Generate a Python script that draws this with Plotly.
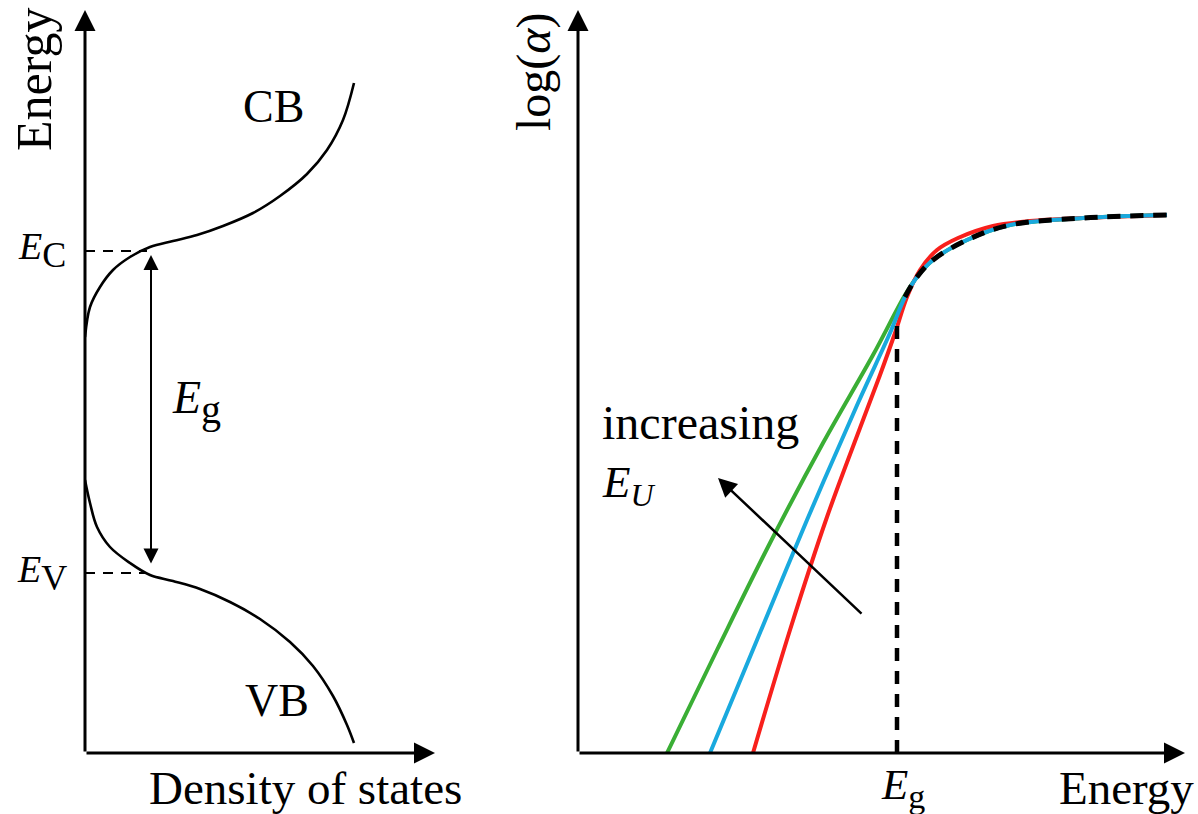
import plotly.graph_objects as go

W, H = 1198, 814
SERIF = "Liberation Serif"

# ---------------- Left panel: density of states vs energy (arbitrary units) ----------------
cb_dos = [0.00, 0.05, 0.15, 0.28, 0.45, 0.65, 0.88, 1.12, 1.38, 1.68, 1.95, 2.22, 2.42, 2.58, 2.69]
cb_energy = [4.16, 4.46, 4.66, 4.83, 4.96, 5.06, 5.12, 5.18, 5.27, 5.40, 5.57, 5.79, 6.03, 6.33, 6.70]
vb_dos = [0.00, 0.05, 0.12, 0.25, 0.45, 0.65, 0.88, 1.15, 1.45, 1.75, 2.05, 2.28, 2.48, 2.62, 2.69]
vb_energy = [2.73, 2.50, 2.26, 2.06, 1.90, 1.78, 1.72, 1.64, 1.51, 1.34, 1.11, 0.87, 0.57, 0.28, 0.10]
E_C = 5.02
E_V = 1.80
band_edge_dos = 0.62      # end of the dashed E_C / E_V guide lines
gap_arrow_dos = 0.66
gap_arrow_top = 4.98
gap_arrow_bottom = 1.88
left_x_max, left_y_max = 3.5, 7.43

# ---------------- Right panel: log(alpha) vs photon energy (arbitrary units) ----------------
green_energy = [0.89, 1.39, 1.92, 2.45, 2.95, 3.27, 3.39, 3.55, 3.89, 4.32, 5.05, 5.89]
green_loga = [0.00, 1.03, 2.10, 3.10, 3.98, 4.58, 4.76, 4.93, 5.13, 5.28, 5.35, 5.38]
blue_energy = [1.32, 1.79, 2.29, 2.80, 3.12, 3.27, 3.39, 3.55, 3.89, 4.32, 5.05, 5.89]
blue_loga = [0.00, 1.13, 2.33, 3.50, 4.20, 4.56, 4.76, 4.93, 5.13, 5.28, 5.35, 5.38]
red_energy = [1.75, 2.12, 2.49, 2.82, 3.02, 3.17, 3.29, 3.42, 3.59, 3.80, 4.15, 4.52, 5.05, 5.89]
red_loga = [0.00, 1.23, 2.36, 3.25, 3.78, 4.20, 4.56, 4.83, 5.03, 5.15, 5.27, 5.32, 5.35, 5.38]
ideal_energy = [3.27, 3.39, 3.55, 3.89, 4.32, 5.05, 5.89]
ideal_loga = [4.56, 4.76, 4.93, 5.13, 5.28, 5.35, 5.38]
E_g = 3.19
E_g_line_top = 4.36
arrow_tail = (2.85, 1.38)
arrow_head = (1.40, 2.75)
right_x_max, right_y_max = 6.07, 7.43

GREEN = "#3aae35"
BLUE = "#19a9de"
RED = "#f8201c"


def px(x):
    return x / W


def py(y):
    return 1 - y / H


fig = go.Figure()

# left panel curves
for xs, ys in ((cb_dos, cb_energy), (vb_dos, vb_energy)):
    fig.add_trace(go.Scatter(x=xs, y=ys, mode="lines", xaxis="x", yaxis="y",
                             line=dict(color="black", width=2.6, shape="spline", smoothing=1.0)))
for e in (E_C, E_V):
    fig.add_trace(go.Scatter(x=[0, band_edge_dos], y=[e, e], mode="lines", xaxis="x", yaxis="y",
                             line=dict(color="black", width=2, dash="10px,8px")))

# right panel curves
for xs, ys, col in ((green_energy, green_loga, GREEN),
                    (red_energy, red_loga, RED),
                    (blue_energy, blue_loga, BLUE)):
    fig.add_trace(go.Scatter(x=xs, y=ys, mode="lines", xaxis="x2", yaxis="y2",
                             line=dict(color=col, width=4, shape="spline", smoothing=1.0)))
fig.add_trace(go.Scatter(x=ideal_energy, y=ideal_loga, mode="lines", xaxis="x2", yaxis="y2",
                         line=dict(color="black", width=5, dash="13px,10px", shape="spline", smoothing=1.0)))
fig.add_trace(go.Scatter(x=[E_g, E_g], y=[0, E_g_line_top], mode="lines", xaxis="x2", yaxis="y2",
                         line=dict(color="black", width=4.5, dash="13px,10px")))

annotations = []


def arrow(xref, yref, x0, y0, x1, y1, width=3, size=1.4, side="end"):
    annotations.append(dict(
        x=x1, y=y1, ax=x0, ay=y0, xref=xref, yref=yref, axref=xref, ayref=yref,
        text="", showarrow=True, arrowhead=2, arrowsize=size, arrowwidth=width,
        arrowcolor="black", arrowside=side, standoff=0, startstandoff=0,
    ))


# axes with arrows
arrow("x", "y", 0, 0, left_x_max, 0)
arrow("x", "y", 0, 0, 0, left_y_max)
arrow("x2", "y2", 0, 0, right_x_max, 0)
arrow("x2", "y2", 0, 0, 0, right_y_max)
# band gap double arrow
arrow("x", "y", gap_arrow_dos, gap_arrow_bottom, gap_arrow_dos, gap_arrow_top, width=2, size=1.5,
      side="end+start")
# increasing E_U arrow
arrow("x2", "y2", arrow_tail[0], arrow_tail[1], arrow_head[0], arrow_head[1], width=2.5, size=1.5)


def label(x, y, text, size=44, angle=0, xanchor="center"):
    annotations.append(dict(
        x=px(x), y=py(y), xref="paper", yref="paper", text=text, showarrow=False,
        font=dict(family=SERIF, size=size, color="black"), textangle=angle,
        xanchor=xanchor, yanchor="middle",
    ))


label(34, 80, "Energy", size=50, angle=-90)
label(42, 250, "<i>E</i><sub><span style='font-size:36px'>C</span></sub>", size=38)
label(42, 573, "<i>E</i><sub><span style='font-size:36px'>V</span></sub>", size=38)
label(196, 402, "<i>E</i><sub><span style='font-size:40px'>g</span></sub>", size=46)
label(273, 106, "CB", size=46)
label(277, 700, "VB", size=46)
label(305, 788, "Density of states", size=47)

label(534, 72, "log(<i>α</i>)", size=48, angle=-90)
label(600, 422, "increasing", size=48, xanchor="left")
label(600, 485, "<i>E</i><sub><span style='font-size:32px'><i>U</i></span></sub>", size=45, xanchor="left")
label(903, 788, "<i>E</i><sub><span style='font-size:34px'>g</span></sub>", size=43)
label(1126, 788, "Energy", size=47)

hidden = dict(visible=False, showgrid=False, zeroline=False, fixedrange=True)
fig.update_layout(
    width=W, height=H,
    margin=dict(l=0, r=0, t=0, b=0),
    paper_bgcolor="white", plot_bgcolor="white",
    showlegend=False,
    xaxis=dict(domain=[px(85), px(435)], range=[0, left_x_max], **hidden),
    yaxis=dict(domain=[py(753), py(10)], range=[0, left_y_max], **hidden),
    xaxis2=dict(domain=[px(578), px(1185)], range=[0, right_x_max], **hidden),
    yaxis2=dict(domain=[py(753), py(10)], range=[0, right_y_max], **hidden),
    annotations=annotations,
)

fig.write_html("out.html", config={"displayModeBar": False},
               post_script="document.body.style.margin='0px';document.body.style.overflow='hidden';")
